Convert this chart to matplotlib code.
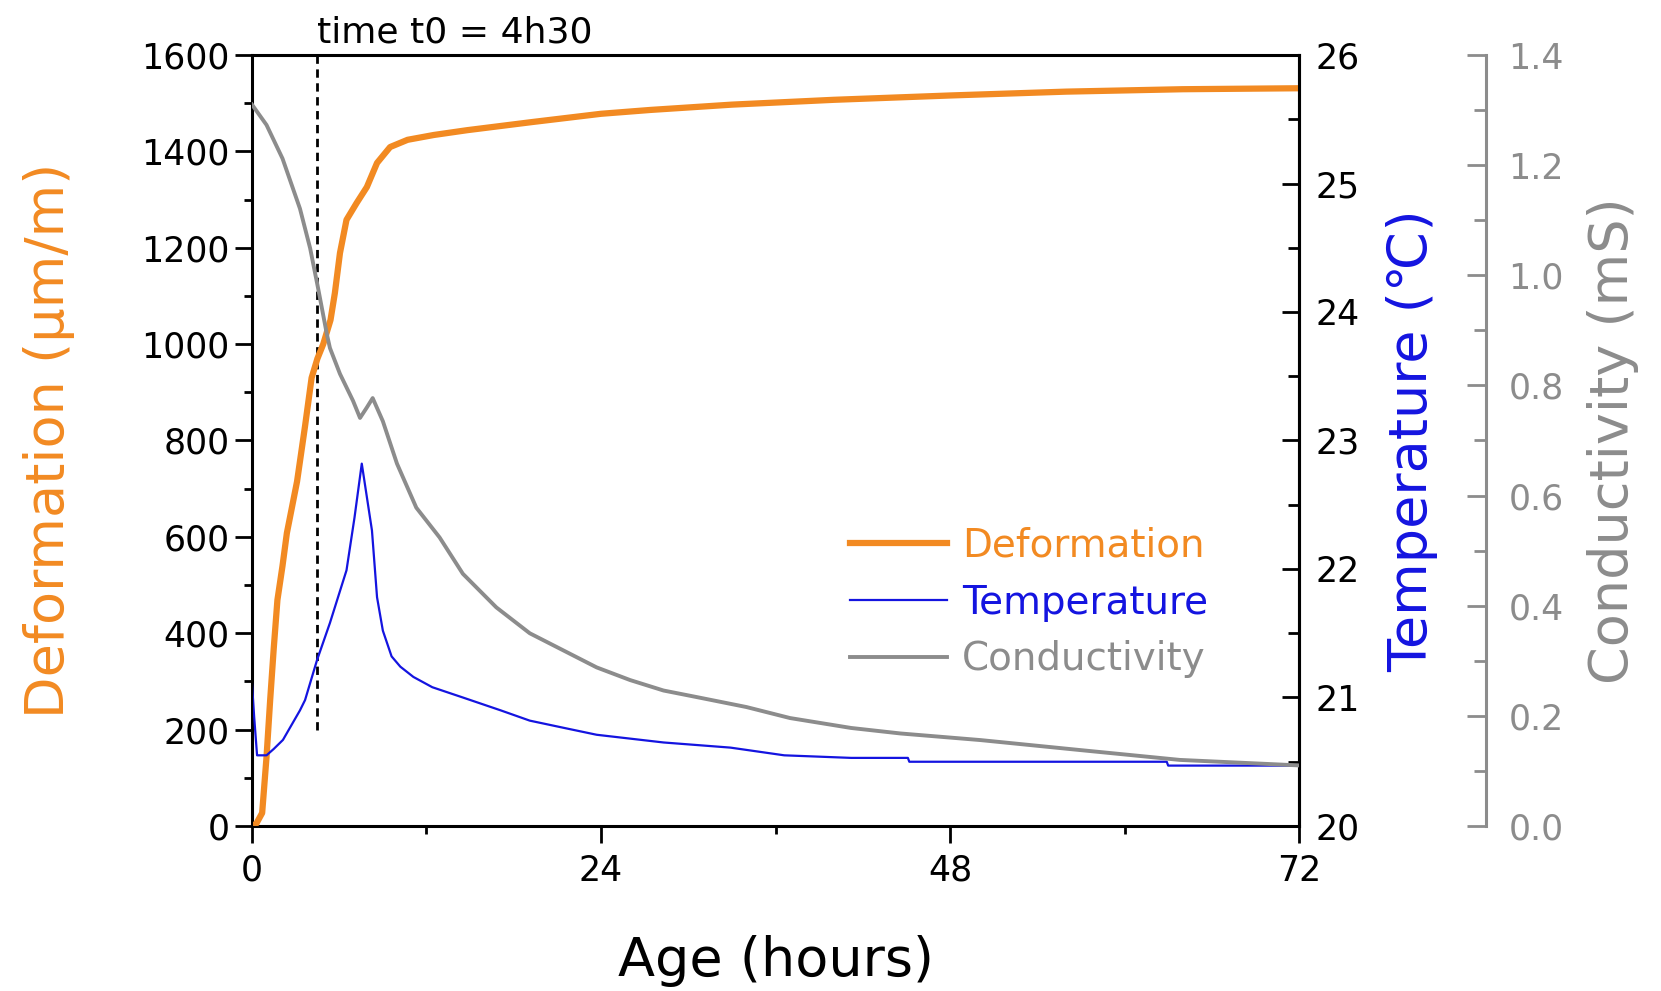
import matplotlib
matplotlib.use("Agg")
import matplotlib.pyplot as plt
from matplotlib.ticker import MultipleLocator, FormatStrFormatter

# values
hours_def = [0, 0.3, 0.7, 1.0, 1.25, 1.5, 1.75, 2.1, 2.4, 3.1, 3.65, 4.1, 4.5,
             4.9, 5.4, 5.7, 6.05, 6.5, 7.2, 7.9, 8.6, 9.5, 10.7, 12.5, 14.8,
             19.3, 24, 27.4, 33, 40, 48, 56, 64, 72]
deformation = [0, 5, 27, 143, 261, 370, 469, 540, 608, 715, 830, 930, 970,
               1000, 1050, 1106, 1189, 1258, 1293, 1326, 1376, 1409, 1424, 1434,
               1444, 1461, 1478, 1486, 1497, 1507, 1516, 1524, 1529, 1531]

hours_temp = [0, 0.15, 0.35, 1.0, 1.5, 2.13, 3.3, 3.65, 4.47, 5.36, 6.5, 7.05,
              7.55, 7.9, 8.25, 8.6, 9.0, 9.6, 10.2, 11.1, 12.4, 14.5, 17.1,
              19.1, 21.6, 23.7, 28.3, 32.9, 36.6, 41.2, 45.1, 45.2, 62.9, 63.0,
              72]
temperature = [21.11, 20.85, 20.55, 20.55, 20.6, 20.67, 20.9, 20.98, 21.29,
               21.58, 21.99, 22.4, 22.82, 22.56, 22.3, 21.78, 21.52, 21.32,
               21.24, 21.16, 21.08, 21.0, 20.9, 20.82, 20.76, 20.71, 20.65,
               20.61, 20.55, 20.53, 20.53, 20.5, 20.5, 20.47, 20.47]

hours_cond = [0, 1.0, 2.1, 3.3, 4.0, 4.55, 5.15, 5.36, 6.05, 6.95, 7.43, 7.9,
              8.3, 9.0, 9.97, 11.3, 12.9, 14.5, 16.8, 19.1, 21.4, 23.7, 26.0,
              28.3, 30.6, 34, 37, 41.2, 44.6, 50.1, 56.9, 63.8, 72]
conductivity = [1.31, 1.273, 1.212, 1.121, 1.049, 0.976, 0.893, 0.868, 0.821,
                0.772, 0.741, 0.76, 0.777, 0.735, 0.658, 0.578, 0.524, 0.458,
                0.397, 0.35, 0.319, 0.288, 0.265, 0.246, 0.234, 0.216, 0.196,
                0.178, 0.168, 0.156, 0.138, 0.12, 0.11]

t0 = 4.5            # time t0 = 4h30
t0_line_bottom = 200

ORANGE = "#F28A22"
BLUE = "#1414E0"
GRAY = "#8C8C8C"

fig = plt.figure(figsize=(16.61, 9.91), dpi=100)
ax = fig.add_axes([0.1517, 0.1665, 0.6304, 0.778])
ax2 = ax.twinx()
ax3 = ax.twinx()

# --- deformation (left axis) ---
l1, = ax.plot(hours_def, deformation, color=ORANGE, lw=4.5,
              label="Deformation", zorder=3)
ax.vlines(t0, t0_line_bottom, 1600, colors="black", linestyles=(0, (3, 2)),
          lw=2)
ax.text(t0, 1.016, "time t0 = 4h30", transform=ax.get_xaxis_transform(),
        ha="left", va="baseline", fontsize=26)

ax.set_xlim(0, 72)
ax.set_ylim(0, 1600)
ax.xaxis.set_major_locator(MultipleLocator(24))
ax.xaxis.set_minor_locator(MultipleLocator(12))
ax.yaxis.set_major_locator(MultipleLocator(200))
ax.yaxis.set_minor_locator(MultipleLocator(100))
ax.tick_params(which="major", direction="out", length=12, width=2,
               labelsize=25)
ax.tick_params(which="minor", direction="out", length=6, width=2)
ax.tick_params(axis="x", which="major", pad=8)
ax.tick_params(axis="y", which="major", pad=4)
for s in ax.spines.values():
    s.set_linewidth(2.2)
ax.set_xlabel("Age (hours)", fontsize=39, labelpad=34)
ax.set_ylabel("Deformation (µm/m)", fontsize=39, color=ORANGE, labelpad=48)

# --- temperature (right axis) ---
l2, = ax2.plot(hours_temp, temperature, color=BLUE, lw=1.6,
               label="Temperature")
ax2.set_ylim(20, 26)
ax2.yaxis.set_major_locator(MultipleLocator(1))
ax2.yaxis.set_minor_locator(MultipleLocator(0.5))
ax2.tick_params(axis="y", which="major", direction="in", length=12, width=2,
                labelsize=25, pad=12)
ax2.tick_params(axis="y", which="minor", direction="in", length=8, width=2)
ax2.spines["right"].set_linewidth(2.2)
ax2.set_ylabel("Temperature (℃)", fontsize=39, color=BLUE, labelpad=19)

# --- conductivity (offset right axis) ---
l3, = ax3.plot(hours_cond, conductivity, color=GRAY, lw=2.8,
               label="Conductivity")
ax3.set_ylim(0, 1.4)
ax3.spines["right"].set_position(("axes", 1.1786))
ax3.spines["right"].set_color(GRAY)
ax3.spines["right"].set_linewidth(2.2)
for side in ("left", "top", "bottom"):
    ax3.spines[side].set_visible(False)
ax3.yaxis.set_major_locator(MultipleLocator(0.2))
ax3.yaxis.set_minor_locator(MultipleLocator(0.1))
ax3.yaxis.set_major_formatter(FormatStrFormatter("%.1f"))
ax3.tick_params(axis="y", which="major", direction="in", length=14, width=2,
                colors=GRAY, labelsize=25, pad=16)
ax3.tick_params(axis="y", which="minor", direction="in", length=9, width=2,
                colors=GRAY)
ax3.set_ylabel("Conductivity (mS)", fontsize=39, color=GRAY, labelpad=17)

ax3.legend([l1, l2, l3], ["Deformation", "Temperature", "Conductivity"],
           loc="upper left", bbox_to_anchor=(0.571, 0.388), frameon=False,
           fontsize=28, handlelength=2.5, handletextpad=0.38,
           labelspacing=0.48, borderpad=0, borderaxespad=0,
           labelcolor="linecolor")

fig.savefig("out.png", dpi=100)
plt.close(fig)
